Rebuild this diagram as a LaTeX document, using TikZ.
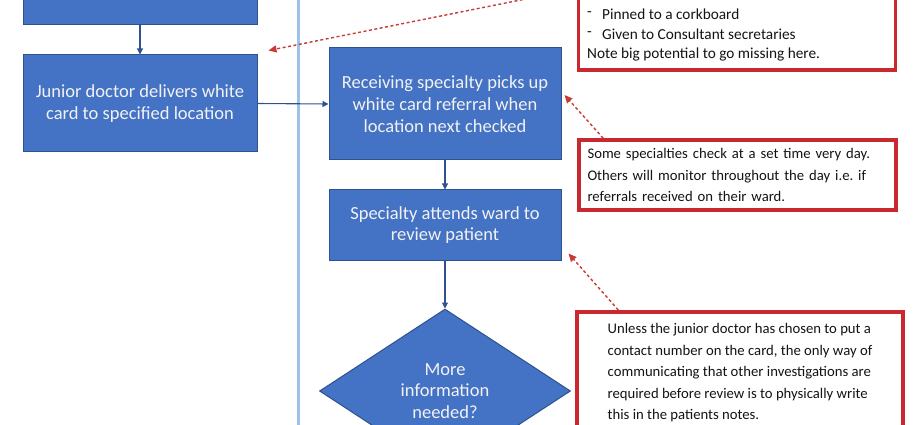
\documentclass[tikz,border=0pt]{standalone}
\usepackage{fontspec}
\setmainfont{Carlito}
\frenchspacing
\usetikzlibrary{arrows.meta,calc,shapes.geometric}
\definecolor{bfill}{HTML}{4472C4}
\definecolor{bdraw}{HTML}{2F528F}
\definecolor{lane}{HTML}{9DC3E6}
\definecolor{nred}{HTML}{C9282E}
\definecolor{ared}{HTML}{C83A35}
\definecolor{ftxt}{HTML}{F2F2F2}
\begin{document}
\begin{tikzpicture}[x=1pt,y=-1pt,
 proc/.style={draw=bdraw, fill=bfill, line width=1pt, text=ftxt, font=\fontsize{18.5}{21.7}\selectfont, align=center, inner sep=0pt},
 decide/.style={diamond, draw=bdraw, fill=bfill, line width=1pt, text=ftxt, font=\fontsize{18.5}{21.7}\selectfont, align=center, inner sep=0pt, aspect=1.53},
 note/.style={draw=nred, line width=3.5pt, fill=white, inner sep=0pt},
 notetext/.style={font=\fontsize{14.7}{21.5}\selectfont, align=left, text=black!92},
 flow/.style={draw=bdraw, line width=1.1pt, -{Triangle[length=6pt,width=6pt]}},
 hint/.style={draw=ared, line width=1.4pt, dash pattern=on 3pt off 2.5pt, -{Triangle[length=8pt,width=7pt]}}]
\useasboundingbox (0,0) rectangle (916,425);
\clip (0,0) rectangle (916,425);
% swim-lane divider
\draw[lane, line width=3pt] (298,-5) -- (298,430);
% process boxes
\node[proc, minimum width=234pt, minimum height=60pt] (top) at (140,-5) {};
\node[proc, minimum width=234pt, minimum height=97pt] (junior) at (140,103.5)
  {Junior doctor delivers white\\card to specified location};
\node[proc, minimum width=232pt, minimum height=112pt] (recv) at (445,104)
  {Receiving specialty picks up\\white card referral when\\location next checked};
\node[proc, minimum width=232pt, minimum height=70pt] (attend) at (445,225)
  {Specialty attends ward to\\review patient};
\node[decide, minimum width=251pt, minimum height=164pt] (more) at (445,391)
  {More\\information\\needed?};
% flow connectors
\draw[flow] (top.south) -- (junior.north);
\draw[flow] (junior.east) -- (recv.west);
\draw[flow] (recv.south) -- (attend.north);
\draw[flow] (attend.south) -- (more.north);
% notes
\node[note, minimum width=317pt, minimum height=130pt] (tnote) at (737,5) {};
\node[notetext, inner sep=0pt, anchor=north west, font=\fontsize{15.3}{19.5}\selectfont] (ttext) at (587,9)
  {\makebox[15pt][l]{\raisebox{3pt}{-}}Pinned to a corkboard\\
   \makebox[15pt][l]{\raisebox{3pt}{-}}Given to Consultant secretaries\\
   Note big potential to go missing here.};
\node[note, notetext, text width=300pt, minimum width=317pt, minimum height=70pt] (mnote) at (737.5,175)
  {Some specialties check at a set time very day.\\
   Others will monitor throughout the day i.e. if\\
   referrals received on their ward.};
\node[note, notetext, inner xsep=0pt, inner ysep=12pt, minimum width=326pt, anchor=north] (bnote) at (740,310)
  {Unless the junior doctor has chosen to put a\\
   contact number on the card, the only way of\\
   communicating that other investigations are\\
   required before review is to physically write\\
   this in the patients notes.};
% hint arrows
\coordinate (h1a) at ($(tnote.south west)+(0,-83)$);
\coordinate (h1b) at ($(junior.north east)+(11,-4)$);
\coordinate (h2a) at ($(mnote.north west)+(26,0)$);
\coordinate (h2b) at ($(recv.east)+(3,-9)$);
\coordinate (h3a) at ($(bnote.north west)+(43,0)$);
\coordinate (h3b) at ($(attend.south east)+(7,-7)$);
\draw[hint] (h1a) -- (h1b);
\draw[hint] (h2a) -- (h2b);
\draw[hint] (h3a) -- (h3b);
\end{tikzpicture}
\end{document}
